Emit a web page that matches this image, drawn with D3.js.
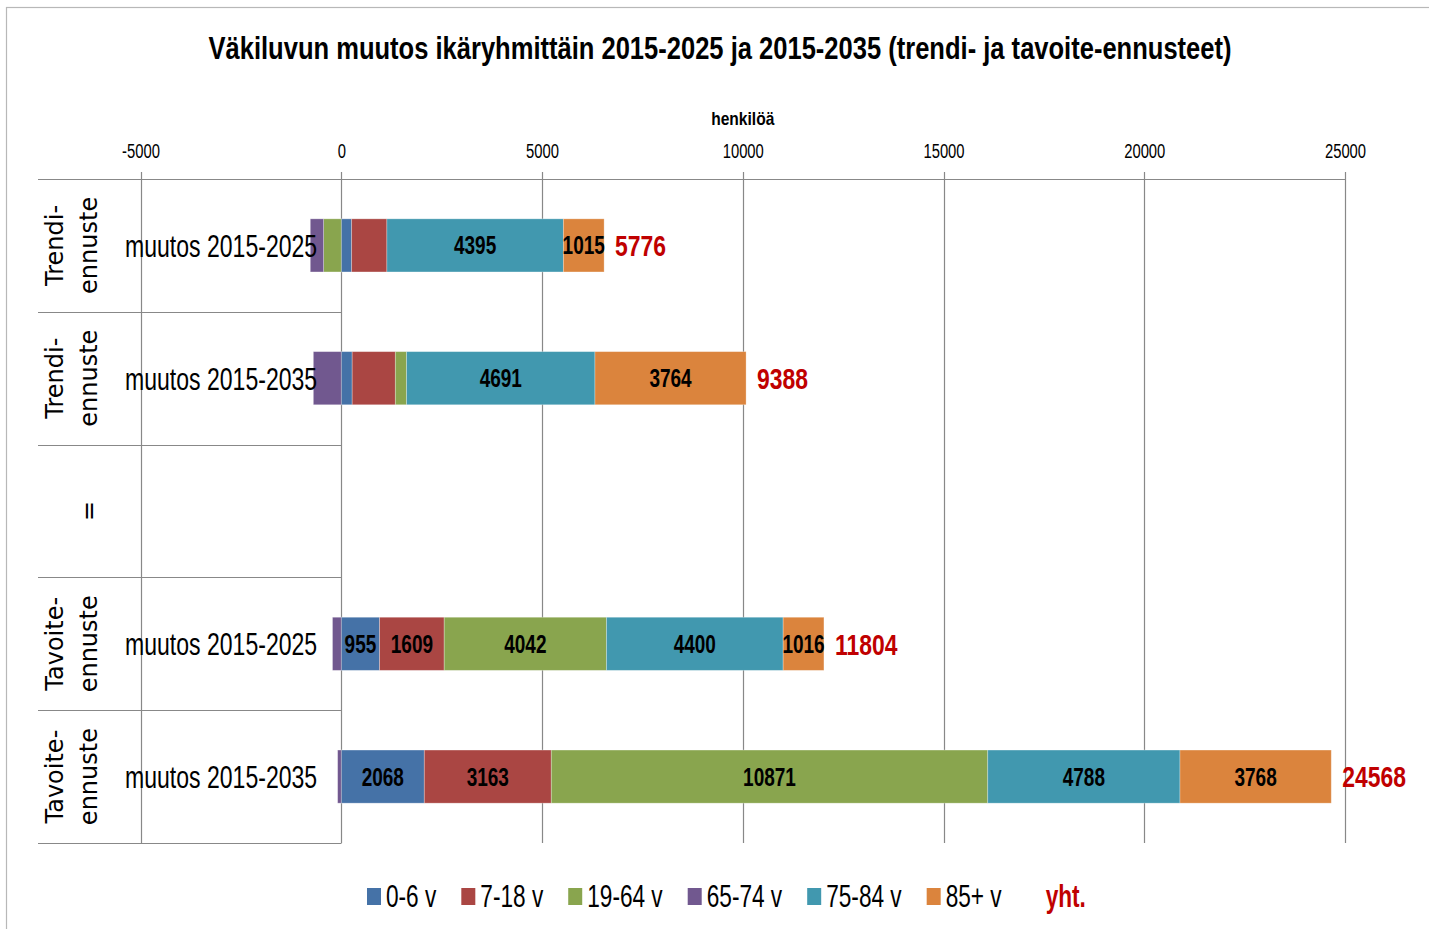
<!DOCTYPE html>
<html>
<head>
<meta charset="utf-8">
<script src="https://cdn.jsdelivr.net/npm/d3@7"></script>
<style>
    body { margin: 0; background: #fff; }
    svg { display: block; }
    text { font-family: "Liberation Sans", Arial, sans-serif; }
</style>
</head>
<body>
<div id="viz_div"></div>
<script>
// DATA
// ---------------------------------------------------------------------------------------------------------------------------------
const title = "Väkiluvun muutos ikäryhmittäin 2015-2025 ja 2015-2035 (trendi- ja tavoite-ennusteet)";
const axisTitle = "henkilöä";
const xTicks = [-5000, 0, 5000, 10000, 15000, 20000, 25000];

const outerLine1 = ["Trendi-", "Trendi-", "", "Tavoite-", "Tavoite-"];
const outerLine2 = ["ennuste", "ennuste", "=", "ennuste", "ennuste"];
const periods = ["muutos 2015-2025", "muutos 2015-2035", "", "muutos 2015-2025", "muutos 2015-2035"];

const ageGroups = ["0-6 v", "7-18 v", "19-64 v", "65-74 v", "75-84 v", "85+ v"];
const v0_6 = [259, 272, 0, 955, 2068];
const v7_18 = [878, 1075, 0, 1609, 3163];
const v19_64 = [-440, 281, 0, 4042, 10871];
const v65_74 = [-331, -695, 0, -218, -90];
const v75_84 = [4395, 4691, 0, 4400, 4788];
const v85 = [1015, 3764, 0, 1016, 3768];
const totals = [5776, 9388, null, 11804, 24568];
const totalName = "yht.";

// which segments carry a value label (index into ageGroups), per row
const labelled = [[4, 5], [4, 5], [], [0, 1, 2, 4, 5], [0, 1, 2, 4, 5]];

const colors = ["#4572A7", "#AA4643", "#89A54E", "#71588F", "#4198AF", "#DB843D"];
const totalColor = "#C00000";

// SETUP
// ---------------------------------------------------------------------------------------------------------------------------------
const W = 1429, H = 929;
const plotTop = 179, plotBottom = 843, catLeft = 38;
const gridColor = "#888888";

// the original was drawn with a narrow font, so squeeze text horizontally
function squeeze(sel, k) {
    sel.each(function () {
        const w = this.getComputedTextLength();
        if (w > 0) d3.select(this).attr("textLength", w * k).attr("lengthAdjust", "spacingAndGlyphs");
    });
}

const svg = d3.select("#viz_div").append("svg")
    .attr("width", W)
    .attr("height", H);

svg.append("rect")
    .attr("x", 6.5).attr("y", 7.5)
    .attr("width", W + 20).attr("height", H + 20)
    .attr("fill", "#fff")
    .attr("stroke", "#b8b8b8")
    .attr("stroke-width", 1.2);

const x = d3.scaleLinear().domain([-5000, 25000]).range([140.5, 1345]);
const y = d3.scaleBand().domain(d3.range(periods.length)).range([plotTop, plotBottom]);
const barH = y.bandwidth() * 0.4;

const series = [v0_6, v7_18, v19_64, v65_74, v75_84, v85];
const table = periods.map((p, i) => {
    const row = { idx: i };
    ageGroups.forEach((g, j) => row[g] = series[j][i]);
    return row;
});
const stacked = d3.stack().keys(ageGroups).offset(d3.stackOffsetDiverging)(table);

// TITLE
const titleText = svg.append("text")
    .attr("x", 720).attr("y", 59)
    .attr("text-anchor", "middle")
    .attr("font-weight", "bold")
    .attr("font-size", 32)
    .attr("fill", "#000")
    .text(title);
titleText.attr("textLength", 1023).attr("lengthAdjust", "spacingAndGlyphs");

svg.append("text")
    .attr("x", x(10000)).attr("y", 125)
    .attr("text-anchor", "middle")
    .attr("font-weight", "bold")
    .attr("font-size", 19)
    .text(axisTitle)
    .call(squeeze, 0.82);

// GRIDLINES AND AXIS
// ---------------------------------------------------------------------------------------------------------------------------------
svg.selectAll("line.grid")
    .data(xTicks)
    .enter()
    .append("line")
    .attr("class", "grid")
    .attr("x1", d => Math.round(x(d)) + 0.5).attr("x2", d => Math.round(x(d)) + 0.5)
    .attr("y1", 172).attr("y2", plotBottom)
    .attr("stroke", gridColor)
    .attr("stroke-width", 1.2);

svg.append("line")
    .attr("x1", catLeft).attr("x2", x(25000))
    .attr("y1", plotTop + 0.5).attr("y2", plotTop + 0.5)
    .attr("stroke", gridColor).attr("stroke-width", 1.2);

// category separators
svg.selectAll("line.sep")
    .data(d3.range(periods.length))
    .enter()
    .append("line")
    .attr("class", "sep")
    .attr("x1", catLeft).attr("x2", Math.round(x(0)) + 0.5)
    .attr("y1", d => Math.round(y(d) + y.bandwidth()) + 0.5)
    .attr("y2", d => Math.round(y(d) + y.bandwidth()) + 0.5)
    .attr("stroke", gridColor).attr("stroke-width", 1.2);

const xAxis = svg.append("g")
    .attr("transform", `translate(0,${plotTop})`)
    .call(d3.axisTop(x).tickValues(xTicks).tickSize(0).tickPadding(21).tickFormat(d => String(d)));
xAxis.select(".domain").remove();
xAxis.selectAll("text")
    .attr("font-size", 20)
    .attr("font-family", null)
    .attr("fill", "#000")
    .call(squeeze, 0.74);

// BARS
// ---------------------------------------------------------------------------------------------------------------------------------
stacked.forEach((s, j) => {
    svg.append("g")
        .selectAll("rect")
        .data(s.filter(d => d[1] !== d[0]))
        .enter()
        .append("rect")
        .attr("x", d => x(Math.min(d[0], d[1])))
        .attr("width", d => Math.abs(x(d[1]) - x(d[0])))
        .attr("y", d => y(d.data.idx) + (y.bandwidth() - barH) / 2)
        .attr("height", barH)
        .attr("fill", colors[j])
        .attr("stroke", "#ffffff")
        .attr("stroke-opacity", 0.35)
        .attr("stroke-width", 0.8);

    svg.append("g")
        .selectAll("text")
        .data(s.filter(d => labelled[d.data.idx].includes(j)))
        .enter()
        .append("text")
        .attr("x", d => x((d[0] + d[1]) / 2))
        .attr("y", d => y(d.data.idx) + y.bandwidth() / 2)
        .attr("dy", "0.36em")
        .attr("text-anchor", "middle")
        .attr("font-weight", "bold")
        .attr("font-size", 25)
        .attr("fill", "#000")
        .text(d => d.data[ageGroups[j]])
        .call(squeeze, 0.76);
});

// totals
svg.append("g")
    .selectAll("text")
    .data(totals.map((t, i) => ({ t, i })).filter(d => d.t !== null))
    .enter()
    .append("text")
    .attr("x", d => x(d3.max(stacked, s => s[d.i][1])) + 11)
    .attr("y", d => y(d.i) + y.bandwidth() / 2)
    .attr("dy", "0.37em")
    .attr("font-weight", "bold")
    .attr("font-size", 29)
    .attr("fill", totalColor)
    .text(d => d.t)
    .call(squeeze, 0.79);

// CATEGORY LABELS
// ---------------------------------------------------------------------------------------------------------------------------------
svg.append("g")
    .selectAll("text")
    .data(periods)
    .enter()
    .append("text")
    .attr("x", 125)
    .attr("y", (d, i) => y(i) + y.bandwidth() / 2)
    .attr("dy", "0.36em")
    .attr("font-size", 32)
    .attr("fill", "#000")
    .text(d => d)
    .call(squeeze, 0.72);

[[outerLine1, 63], [outerLine2, 97]].forEach(([lines, bx]) => {
    svg.append("g")
        .selectAll("text")
        .data(lines)
        .enter()
        .append("text")
        .attr("transform", (d, i) => `translate(${bx},${y(i) + y.bandwidth() / 2}) rotate(-90)`)
        .attr("text-anchor", "middle")
        .style("font-family", "'DejaVu Sans', sans-serif")
        .attr("font-size", 24)
        .attr("fill", "#000")
        .text(d => d);
});

// LEGEND
// ---------------------------------------------------------------------------------------------------------------------------------
const legend = svg.append("g");
let lx = 367;
ageGroups.concat([totalName]).forEach((name, j) => {
    const isTotal = j === ageGroups.length;
    if (!isTotal) {
        legend.append("rect")
            .attr("x", lx).attr("y", 888)
            .attr("width", 14).attr("height", 17)
            .attr("fill", colors[j]);
    }
    const t = legend.append("text")
        .attr("x", lx + 19).attr("y", 907)
        .attr("font-size", 31)
        .attr("font-weight", isTotal ? "bold" : "normal")
        .attr("fill", isTotal ? totalColor : "#000")
        .text(name)
        .call(squeeze, 0.73);
    lx = lx + 19 + (+t.attr("textLength")) + 25;
});
</script>
</body>
</html>
